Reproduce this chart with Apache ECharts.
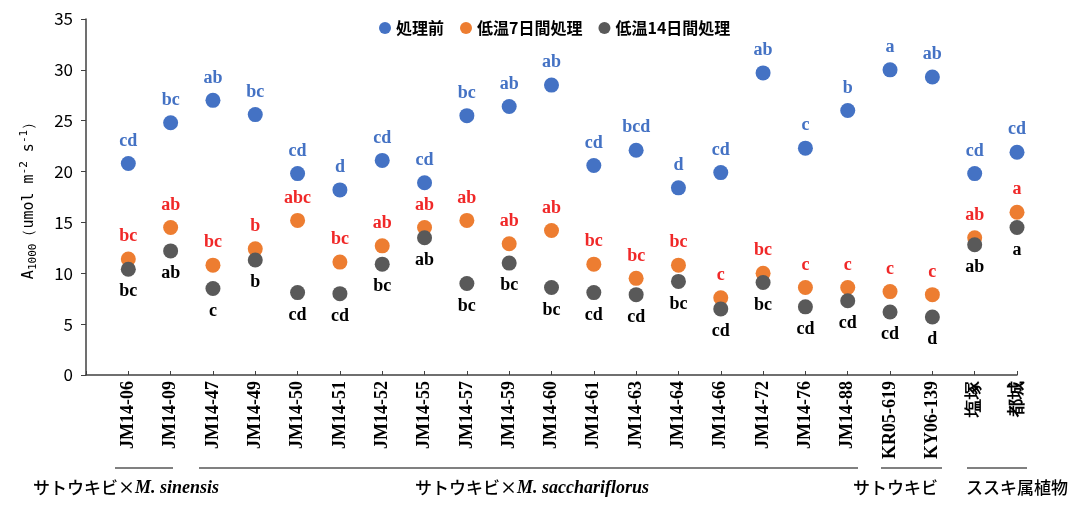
<!DOCTYPE html>
<html>
<head>
<meta charset="utf-8">
<script src="https://cdn.jsdelivr.net/npm/echarts@6/dist/echarts.min.js"></script>
<style>
html,body{margin:0;padding:0;background:#fff;}
#chart{width:1090px;height:505px;}
</style>
</head>
<body>
<div id="chart"></div>
<script>
// categories (first is an empty slot to reproduce the left gap)
const categories = ['', 'JM14-06','JM14-09','JM14-47','JM14-49','JM14-50','JM14-51','JM14-52','JM14-55','JM14-57','JM14-59','JM14-60','JM14-61','JM14-63','JM14-64','JM14-66','JM14-72','JM14-76','JM14-88','KR05-619','KY06-139','塩塚','都城'];
const seriesNames = ['処理前','低温7日間処理','低温14日間処理'];
const before = [20.8,24.8,27.0,25.6,19.8,18.2,21.1,18.9,25.5,26.4,28.5,20.6,22.1,18.4,19.9,29.7,22.3,26.0,30.0,29.3,19.8,21.9];
const cold7  = [11.4,14.5,10.8,12.4,15.2,11.1,12.7,14.5,15.2,12.9,14.2,10.9,9.5,10.8,7.6,10.0,8.6,8.6,8.2,7.9,13.5,16.0];
const cold14 = [10.4,12.2,8.5,11.3,8.1,8.0,10.9,13.5,9.0,11.0,8.6,8.1,7.9,9.2,6.5,9.1,6.7,7.3,6.2,5.7,12.8,14.5];
const lettersBefore = ['cd','bc','ab','bc','cd','d','cd','cd','bc','ab','ab','cd','bcd','d','cd','ab','c','b','a','ab','cd','cd'];
const letters7  = ['bc','ab','bc','b','abc','bc','ab','ab','ab','ab','ab','bc','bc','bc','c','bc','c','c','c','c','ab','a'];
const letters14 = ['bc','ab','c','b','cd','cd','bc','ab','bc','bc','bc','cd','cd','bc','cd','bc','cd','cd','cd','d','ab','a'];
const yTicks = [0,5,10,15,20,25,30,35];

const colors = ['#4472C4','#ED7D31','#595959'];
const labelColors = ['#4472C4','#F02828','#000000'];

function pairs(vals){ return vals.map((v,i)=>[categories[i+1], v]); }

const chart = echarts.init(document.getElementById('chart'));

function mkSeries(idx, vals, letters, pos){
  return {
    name: seriesNames[idx],
    type: 'scatter',
    symbol: 'circle',
    symbolSize: 15,
    itemStyle: {color: colors[idx], opacity: 1},
    data: pairs(vals),
    z: 2 + idx,
    label: {
      show: true,
      position: pos,
      distance: 6,
      formatter: p => letters[p.dataIndex],
      color: labelColors[idx],
      fontFamily: 'Liberation Serif',
      fontWeight: 'bold',
      fontSize: 18
    }
  };
}

const option = {
  backgroundColor: '#fff',
  animation: false,
  grid: {left: 86, right: 73, top: 19, bottom: 130, containLabel: false},
  legend: {
    data: seriesNames,
    top: 15,
    left: 374,
    icon: 'circle',
    itemWidth: 12,
    itemHeight: 12,
    itemGap: 16,
    textStyle: {fontFamily: 'Noto Sans CJK JP', fontWeight: 'bold', fontSize: 16, color: '#000'}
  },
  xAxis: {
    type: 'category',
    data: categories,
    boundaryGap: false,
    axisLine: {lineStyle: {color: '#404040', width: 1.5}},
    axisTick: {show: true, inside: true, length: 4, interval: 0, lineStyle: {color: '#404040'}},
    axisLabel: {
      interval: 0, rotate: 90, margin: 6,
      fontFamily: 'Liberation Serif', fontWeight: 'bold', fontSize: 18, color: '#000'
    },
    splitLine: {show: false}
  },
  yAxis: {
    type: 'value',
    min: yTicks[0], max: yTicks[yTicks.length-1], interval: 5,
    axisLine: {show: true, lineStyle: {color: '#404040', width: 1.5}},
    axisTick: {show: true, length: 5, lineStyle: {color: '#404040'}},
    axisLabel: {margin: 13, fontFamily: 'Noto Sans CJK JP', fontSize: 17, color: '#000'},
    splitLine: {show: false},
    name: '{a|A}{sub|1000}{a|（umol m}{sup|-2}{a| s}{sup|-1}{a|）}',
    nameLocation: 'middle',
    nameGap: 47,
    nameRotate: 90,
    nameTextStyle: {
      color: '#000',
      rich: {
        a: {fontFamily: 'DejaVu Sans Mono', fontSize: 15, color: '#000'},
        sub: {fontFamily: 'DejaVu Sans Mono', fontSize: 11, color: '#000', padding: [9,0,0,0]},
        sup: {fontFamily: 'DejaVu Sans Mono', fontSize: 11, color: '#000', padding: [0,0,9,0]}
      }
    }
  },
  series: [
    mkSeries(0, before, lettersBefore, 'top'),
    mkSeries(1, cold7, letters7, 'top'),
    mkSeries(2, cold14, letters14, 'bottom')
  ],
  graphic: [
    {type:'line', shape:{x1:115,y1:468,x2:173,y2:468}, style:{stroke:'#808080', lineWidth:2}},
    {type:'line', shape:{x1:199,y1:468,x2:858,y2:468}, style:{stroke:'#808080', lineWidth:2}},
    {type:'line', shape:{x1:881,y1:468,x2:942,y2:468}, style:{stroke:'#808080', lineWidth:2}},
    {type:'line', shape:{x1:967,y1:468,x2:1027,y2:468}, style:{stroke:'#808080', lineWidth:2}},
    {type:'text', left:33, top:479, style:{
      text:'{j|サトウキビ×}{i|M. sinensis}',
      rich:{j:{fontFamily:'Noto Sans CJK JP', fontSize:17, fontWeight:500, fill:'#000'},
            i:{fontFamily:'Liberation Serif', fontStyle:'italic', fontWeight:'bold', fontSize:18, fill:'#000'}}}},
    {type:'text', left:415, top:479, style:{
      text:'{j|サトウキビ×}{i|M. sacchariflorus}',
      rich:{j:{fontFamily:'Noto Sans CJK JP', fontSize:17, fontWeight:500, fill:'#000'},
            i:{fontFamily:'Liberation Serif', fontStyle:'italic', fontWeight:'bold', fontSize:18, fill:'#000'}}}},
    {type:'text', left:853, top:479, style:{text:'サトウキビ', font:'500 17px "Noto Sans CJK JP"', fill:'#000'}},
    {type:'text', left:966, top:479, style:{text:'ススキ属植物', font:'500 17px "Noto Sans CJK JP"', fill:'#000'}}
  ]
};
chart.setOption(option);
</script>
</body>
</html>
